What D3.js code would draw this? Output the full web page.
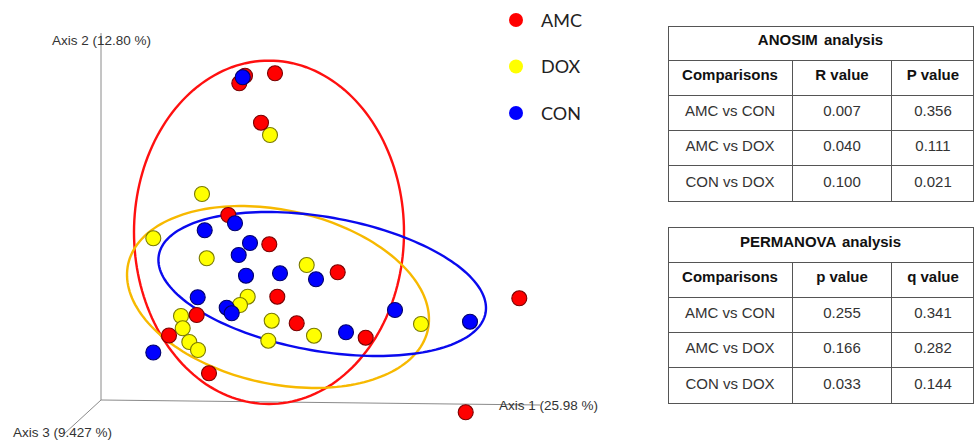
<!DOCTYPE html>
<html>
<head>
<meta charset="utf-8">
<script src="https://cdn.jsdelivr.net/npm/d3@7"></script>
<style>
  html, body { margin: 0; padding: 0; background: #fff; }
  svg { display: block; }
</style>
</head>
<body>
<svg id="chart" width="976" height="440"></svg>
<script>
// PCoA ordination scores, projected onto the Axis 1 / Axis 2 plane
const groups = ["AMC", "DOX", "CON"];
const groupFill = ["#ff0000", "#ffff00", "#0000ff"];
const groupStroke = ["#7a0000", "#7a7a00", "#00006e"];
const ellipseColor = ["#ff1010", "#f7b900", "#0a0aee"];

const amcScores = [
  [138.3, 316.7], [144, 324.3], [174, 326.7], [160, 277.3], [127.3, 185],
  [168.3, 155.7], [236.7, 127.7], [176.3, 103.3], [95.7, 85], [418.3, 101.7],
  [195.7, 76.7], [264.7, 62.3], [68, 64.5], [108, 26.7], [364.7, -12.3]
];
const doxScores = [
  [169, 265], [101, 206], [52.3, 161.7], [105.7, 141.7], [205.7, 135],
  [146.7, 103.3], [139, 95], [80, 84], [320, 76], [170.7, 79.3],
  [213, 64.3], [167.3, 59.3], [81.7, 71.7], [88.3, 58], [97, 50]
];
const conScores = [
  [141.7, 322.7], [134, 176.7], [103.7, 169.7], [149, 157], [137.7, 145],
  [145, 124.3], [179, 126.7], [215, 120.7], [96.7, 102.7], [125.7, 92.3],
  [130.7, 86.7], [294, 90], [369, 78.3], [245, 67.7], [52.3, 47.5]
];

// confidence ellipses: [centre x, centre y, semi-axis a, semi-axis b, rotation (deg)]
const amcEllipse = [168, 167.7, 135, 171.7, 0];
const doxEllipse = [177, 103, 153.4, 86.8, -12.4];
const conEllipse = [221.2, 116, 165.9, 67, -10];

const axisLabels = ["Axis 1 (25.98 %)", "Axis 2 (12.80 %)", "Axis 3 (9.427 %)"];

// statistics tables
const anosimTitle = "ANOSIM analysis";
const anosimHeader = ["Comparisons", "R value", "P value"];
const anosimRows = [
  ["AMC vs CON", "0.007", "0.356"],
  ["AMC vs DOX", "0.040", "0.111"],
  ["CON vs DOX", "0.100", "0.021"]
];
const permanovaTitle = "PERMANOVA analysis";
const permanovaHeader = ["Comparisons", "p value", "q value"];
const permanovaRows = [
  ["AMC vs CON", "0.255", "0.341"],
  ["AMC vs DOX", "0.166", "0.282"],
  ["CON vs DOX", "0.033", "0.144"]
];

const svg = d3.select("#chart");
const x = d3.scaleLinear().domain([0, 440]).range([101, 541]);
const y = d3.scaleLinear().domain([0, 370]).range([400, 30]);

// ---- 3D-style axis frame ----
const axisG = svg.append("g").attr("stroke", "#8a8a8a").attr("stroke-width", 1).attr("fill", "none");
axisG.append("line").attr("x1", x(0)).attr("y1", y(0)).attr("x2", x(0)).attr("y2", y(367));
axisG.append("line").attr("x1", x(0)).attr("y1", y(0)).attr("x2", x(439)).attr("y2", y(-5));
axisG.append("line").attr("x1", x(0)).attr("y1", y(0)).attr("x2", x(-37)).attr("y2", y(-34));

const labelFont = "'Liberation Sans', Arial, sans-serif";
svg.append("text").attr("x", 52).attr("y", 45).text(axisLabels[1]);
svg.append("text").attr("x", 499).attr("y", 410).text(axisLabels[0]);
svg.append("text").attr("x", 13).attr("y", 437).text(axisLabels[2]);
svg.selectAll("text").attr("font-family", labelFont).attr("font-size", 13.5).attr("fill", "#333");

// ---- ellipses ----
function ellipsePath(e) {
  const [cx, cy, a, b, deg] = e;
  const th = deg * Math.PI / 180;
  const pts = d3.range(0, 181).map(i => {
    const t = i / 180 * 2 * Math.PI;
    const dx = a * Math.cos(t) * Math.cos(th) - b * Math.sin(t) * Math.sin(th);
    const dy = a * Math.cos(t) * Math.sin(th) + b * Math.sin(t) * Math.cos(th);
    return [x(cx + dx), y(cy + dy)];
  });
  return d3.line().curve(d3.curveLinearClosed)(pts);
}
[amcEllipse, doxEllipse, conEllipse].forEach((e, i) => {
  svg.append("path").attr("d", ellipsePath(e))
    .attr("fill", "none").attr("stroke", ellipseColor[i]).attr("stroke-width", 2.4);
});

// ---- sample points ----
const allScores = [amcScores, doxScores, conScores];
const drawOrder = [1, 0, 2];
drawOrder.forEach(gi => {
  svg.append("g").selectAll("circle").data(allScores[gi]).join("circle")
    .attr("cx", d => x(d[0])).attr("cy", d => y(d[1])).attr("r", 7.5)
    .attr("fill", groupFill[gi]).attr("stroke", groupStroke[gi]).attr("stroke-width", 1.1);
});

// ---- legend ----
const legend = svg.append("g").selectAll("g").data(groups).join("g")
  .attr("transform", (d, i) => `translate(516, ${20 + i * 46.5})`);
legend.append("circle").attr("r", 7).attr("fill", (d, i) => groupFill[i]);
legend.append("text").attr("x", 25).attr("y", 6.5).text(d => d)
  .attr("font-family", "Lato, 'Open Sans', sans-serif").attr("font-size", 18).attr("fill", "#222");

// ---- tables ----
function drawTable(top, titleH, title, header, rows) {
  const cols = [668, 792, 891, 973];
  const centers = [730, 842, 933];
  const rowH = 35.3;
  const bottom = top + titleH + rowH * (rows.length + 1);
  const g = svg.append("g");
  const ln = g.append("g").attr("stroke", "#555").attr("stroke-width", 1).attr("shape-rendering", "crispEdges");
  ln.append("rect").attr("x", cols[0]).attr("y", top).attr("width", cols[3] - cols[0]).attr("height", bottom - top).attr("fill", "none");
  for (let i = 0; i <= rows.length; i++) {
    const yy = top + titleH + rowH * i;
    ln.append("line").attr("x1", cols[0]).attr("x2", cols[3]).attr("y1", yy).attr("y2", yy);
  }
  [cols[1], cols[2]].forEach(cx => {
    ln.append("line").attr("x1", cx).attr("x2", cx).attr("y1", top + titleH).attr("y2", bottom);
  });
  const txt = (xx, yy, s, bold) => g.append("text").attr("x", xx).attr("y", yy)
    .attr("text-anchor", "middle").attr("dominant-baseline", "central")
    .attr("font-family", labelFont).attr("font-size", 15)
    .attr("font-weight", bold ? "bold" : "normal").attr("fill", bold ? "#111" : "#333").text(s);
  txt((cols[0] + cols[3]) / 2, top + titleH / 2 - 3.5, title, true).attr("word-spacing", 2);
  header.forEach((h, j) => txt(centers[j], top + titleH + rowH / 2 - 3, h, true));
  rows.forEach((r, i) => r.forEach((c, j) => txt(centers[j], top + titleH + rowH * (i + 1.5) - 2.5, c, false)));
}
drawTable(26, 34, anosimTitle, anosimHeader, anosimRows);
drawTable(227, 35, permanovaTitle, permanovaHeader, permanovaRows);
</script>
</body>
</html>
